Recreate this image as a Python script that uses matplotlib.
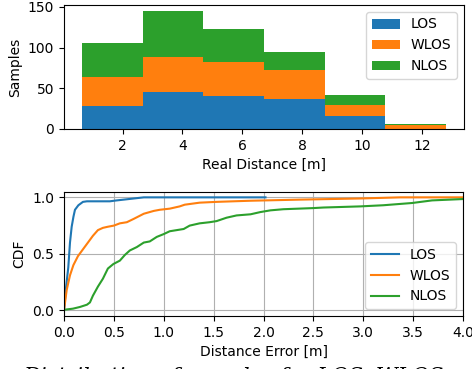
import numpy as np
import matplotlib
matplotlib.use("Agg")
import matplotlib.pyplot as plt

# ---- Histogram data (stacked samples per real-distance bin) ----
bin_edges = [0.65, 2.675, 4.70, 6.725, 8.75, 10.775, 12.8]
los_counts = [28, 46, 40, 37, 16, 0]
wlos_counts = [36, 42, 42, 35, 13, 5]
nlos_counts = [41, 57, 41, 22, 13, 1]
labels = ["LOS", "WLOS", "NLOS"]

# ---- CDF data (distance error) ----
los_err = [0.0, 0.02, 0.043, 0.06, 0.077, 0.095, 0.11, 0.144, 0.19, 0.23, 0.46, 0.52, 0.6, 0.7, 0.8, 2.02]
los_cdf = [0.0, 0.2, 0.38, 0.6, 0.74, 0.83, 0.89, 0.93, 0.96, 0.965, 0.965, 0.972, 0.98, 0.99, 1.0, 1.0]

wlos_err = [0.0, 0.027, 0.06, 0.094, 0.14, 0.19, 0.24, 0.29, 0.34, 0.39, 0.44, 0.50, 0.56, 0.63, 0.70,
            0.80, 0.90, 0.96, 1.06, 1.16, 1.21, 1.36, 1.53, 1.73, 1.87, 2.37, 2.97, 3.37, 4.1]
wlos_cdf = [0.0, 0.18, 0.31, 0.40, 0.48, 0.54, 0.60, 0.66, 0.71, 0.73, 0.74, 0.75, 0.77, 0.78, 0.81,
            0.855, 0.88, 0.89, 0.90, 0.92, 0.935, 0.953, 0.96, 0.966, 0.97, 0.98, 0.99, 1.0, 1.0]

nlos_err = [0.0, 0.09, 0.16, 0.23, 0.26, 0.29, 0.34, 0.39, 0.44, 0.495, 0.56, 0.61, 0.66, 0.73, 0.80,
            0.86, 0.93, 1.0, 1.06, 1.20, 1.26, 1.36, 1.46, 1.53, 1.63, 1.73, 1.87, 1.97, 2.07, 2.2,
            2.5, 2.6, 2.97, 3.2, 3.49, 3.69, 4.0]
nlos_cdf = [0.005, 0.015, 0.03, 0.05, 0.07, 0.13, 0.21, 0.28, 0.37, 0.41, 0.44, 0.49, 0.53, 0.56, 0.60,
            0.61, 0.65, 0.675, 0.70, 0.72, 0.75, 0.77, 0.78, 0.79, 0.82, 0.84, 0.85, 0.87, 0.885, 0.895,
            0.905, 0.91, 0.92, 0.93, 0.95, 0.973, 0.985]

colors = ["#1f77b4", "#ff7f0e", "#2ca02c"]

fig = plt.figure(figsize=(4.72, 3.69), dpi=100)
ax1 = fig.add_axes([64 / 472, 240 / 369, 400 / 472, 124 / 369])
ax2 = fig.add_axes([64 / 472, 53 / 369, 399 / 472, 124.3 / 369])

centers = [(a + b) / 2 for a, b in zip(bin_edges[:-1], bin_edges[1:])]
ax1.hist([centers, centers, centers], bins=bin_edges,
         weights=[los_counts, wlos_counts, nlos_counts],
         stacked=True, histtype="stepfilled", color=colors, label=labels)
ax1.set_xlabel("Real Distance [m]")
ax1.set_ylabel("Samples")
h, l = ax1.get_legend_handles_labels()
order = [l.index(name) for name in labels]
ax1.legend([h[i] for i in order], [l[i] for i in order], loc="upper right")

ax2.plot(los_err, los_cdf, color=colors[0], label="LOS")
ax2.plot(wlos_err, wlos_cdf, color=colors[1], label="WLOS")
ax2.plot(nlos_err, nlos_cdf, color=colors[2], label="NLOS")
ax2.set_xlim(0, 4)
ax2.set_ylim(-0.05, 1.05)
ax2.set_yticks([0.0, 0.5, 1.0])
ax2.grid(True)
ax2.set_xlabel("Distance Error [m]")
ax2.set_ylabel("CDF")
ax2.legend(loc="lower right")

fig.text(23 / 472, 1.8 / 369, "Distribution of samples for LOS, WLOS",
         fontsize=15.2, family="DejaVu Serif", style="italic", va="top", ha="left")

fig.savefig("out.png", dpi=100)
